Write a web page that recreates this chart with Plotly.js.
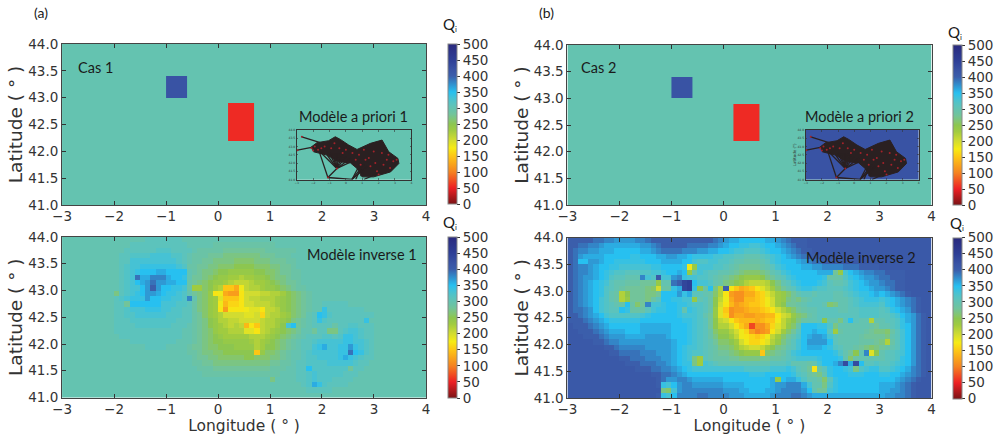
<!DOCTYPE html>
<html><head><meta charset="utf-8">
<script src="https://cdn.plot.ly/plotly-3.0.1.min.js"></script>
<style>html,body{margin:0;padding:0;background:#fff}#c{width:994px;height:435px}</style>
</head><body><div id="c"></div>
<script>
const colorStops=[[0,'#7a1315'],[0.1,'#ed2024'],[0.2,'#f58220'],[0.3,'#fdc615'],[0.35,'#f6eb14'],[0.4,'#d2dc30'],[0.46,'#a0cb40'],[0.5,'#8cc650'],[0.52,'#85c66c'],[0.54,'#7bc583'],[0.56,'#72c49a'],[0.58,'#6ac3a6'],[0.6,'#64c3b0'],[0.62,'#5cc3bc'],[0.64,'#52c3c6'],[0.66,'#46c2d4'],[0.7,'#27c0f0'],[0.8,'#3b5eab'],[0.84,'#3953a4'],[0.9,'#2e3f96'],[1,'#2a2a7e']];
const lons=[-2.95,-2.85,-2.75,-2.65,-2.55,-2.45,-2.35,-2.25,-2.15,-2.05,-1.95,-1.85,-1.75,-1.65,-1.55,-1.45,-1.35,-1.25,-1.15,-1.05,-0.95,-0.85,-0.75,-0.65,-0.55,-0.45,-0.35,-0.25,-0.15,-0.05,0.05,0.15,0.25,0.35,0.45,0.55,0.65,0.75,0.85,0.95,1.05,1.15,1.25,1.35,1.45,1.55,1.65,1.75,1.85,1.95,2.05,2.15,2.25,2.35,2.45,2.55,2.65,2.75,2.85,2.95,3.05,3.15,3.25,3.35,3.45,3.55,3.65,3.75,3.85,3.95];
const lats=[43.95,43.85,43.75,43.65,43.55,43.45,43.35,43.25,43.15,43.05,42.95,42.85,42.75,42.65,42.55,42.45,42.35,42.25,42.15,42.05,41.95,41.85,41.75,41.65,41.55,41.45,41.35,41.25,41.15,41.05];
const priorLonEdges=[-3,-1,-0.6,0.2,0.7,4];
const priorLatEdges=[41,42.2,42.9,43,43.4,44];
const prior1=[[300,300,300,300,300],[300,300,300,55,300],[300,300,300,300,300],[300,420,300,300,300],[300,300,300,300,300]];
const prior2=[[300,300,300,300,300],[300,300,300,55,300],[300,300,300,300,300],[300,420,300,300,300],[300,300,300,300,300]];
const insetBg1=[[300]];
const insetBg2=[[420]];
// Inverse model values, in tens of Q_i, rows from 44N down to 41N
const inverse1Tens=[
[30,30,30,30,30,30,30,30,30,30,30,30,30,30,30,30,31,31,31,31,31,31,31,30,30,30,30,30,30,30,30,30,30,30,30,30,30,30,30,30,30,30,30,30,30,30,30,30,30,30,30,30,30,30,30,30,30,30,30,30,30,30,30,30,30,30,30,30,30,30],
[30,30,30,30,30,30,30,30,30,30,30,30,30,31,31,31,31,31,31,31,31,31,31,31,30,30,30,30,30,29,29,29,29,29,29,29,29,29,29,29,29,30,30,30,30,30,30,30,30,30,30,30,30,30,30,30,30,30,30,30,30,30,30,30,30,30,30,30,30,30],
[30,30,30,30,30,30,30,30,30,30,30,30,31,31,31,31,31,31,32,32,32,31,31,31,31,30,29,29,29,29,29,28,28,28,28,28,28,28,28,29,29,29,29,29,29,30,30,30,30,30,30,30,30,30,30,30,30,30,30,30,30,30,30,30,30,30,30,30,30,30],
[30,30,30,30,30,30,30,30,30,30,30,31,31,32,32,32,32,33,33,33,33,32,32,31,30,29,29,29,28,28,28,27,27,27,27,27,27,27,28,28,28,29,29,29,30,30,30,30,30,30,30,30,30,30,30,30,30,30,30,30,30,30,30,30,30,30,30,30,30,30],
[30,30,30,30,30,30,30,30,30,30,30,31,31,33,33,33,33,33,33,33,33,33,32,31,30,29,29,28,28,27,27,27,27,26,26,26,26,27,27,27,28,28,28,29,29,30,30,30,30,30,30,30,30,30,30,30,30,30,30,30,30,30,30,30,30,30,30,30,30,30],
[30,30,30,30,30,30,30,30,30,30,30,31,32,33,33,34,34,34,34,34,34,34,33,32,29,29,28,28,27,27,26,26,26,25,25,25,25,26,26,26,27,27,28,28,29,30,30,30,30,30,30,30,30,30,30,30,30,30,30,30,30,30,30,30,30,30,30,30,30,30],
[30,30,30,30,30,30,30,30,30,30,30,31,32,33,34,35,35,35,36,36,35,35,35,35,30,29,28,27,27,26,25,25,24,24,24,24,24,25,25,26,26,27,28,28,29,29,30,30,30,30,30,30,30,30,30,30,30,30,30,30,30,30,30,30,30,30,30,30,30,30],
[30,30,30,30,30,30,30,30,30,30,30,31,32,33,39,36,36,38,38,38,36,35,35,34,30,28,28,27,26,25,24,24,23,23,22,23,23,24,24,25,26,27,27,28,29,29,30,30,30,30,30,30,30,30,30,30,30,30,30,30,30,30,30,30,30,30,30,30,30,30],
[30,30,30,30,30,30,30,30,30,30,30,31,32,33,35,36,37,39,37,37,36,36,35,35,29,28,27,26,25,24,24,23,22,21,21,21,22,23,23,24,25,26,27,28,28,29,30,30,30,30,30,30,30,30,30,30,30,30,30,30,30,30,30,30,30,30,30,30,30,30],
[30,30,30,30,30,30,30,30,30,30,30,31,32,33,33,35,37,40,37,35,35,34,34,33,29,23,23,26,25,23,22,15,15,13,18,21,22,22,23,24,24,25,26,27,28,29,29,30,30,30,30,30,30,30,30,30,30,30,30,30,30,30,30,30,30,30,30,30,30,30],
[30,30,30,30,30,30,30,30,30,30,27,31,32,33,34,35,37,37,36,35,34,34,33,32,30,28,27,26,24,17,18,13,12,12,17,20,20,20,21,21,22,22,23,25,26,27,28,29,30,30,30,30,30,30,30,30,30,30,30,30,30,30,30,30,30,30,30,30,30,30],
[30,30,30,30,30,30,30,30,30,30,31,32,33,34,34,34,37,35,35,34,34,33,33,32,38,30,27,26,24,23,19,15,15,15,17,20,21,21,22,22,22,23,24,25,26,27,28,29,30,30,30,30,30,30,30,30,30,30,30,30,30,30,30,30,30,30,30,30,30,30],
[30,30,30,30,30,30,30,30,30,30,31,31,28,35,35,35,35,35,35,33,33,33,32,32,31,29,27,26,24,23,18,14,16,16,17,20,20,21,21,21,22,23,24,25,26,27,28,29,30,30,31,31,31,31,31,30,30,30,30,30,30,30,30,30,30,30,30,30,30,30],
[30,30,30,30,30,30,30,30,30,30,31,31,32,33,33,33,34,34,34,33,33,32,32,31,31,29,27,26,24,23,17,12,17,17,17,18,19,19,17,21,21,22,24,25,26,27,28,29,30,30,34,31,31,31,31,31,31,31,30,30,30,30,30,30,30,30,30,30,30,30],
[30,30,30,30,30,30,30,30,30,30,31,31,32,32,33,33,33,33,33,33,32,32,32,31,31,29,28,26,24,23,22,20,20,20,20,19,19,20,16,21,22,22,23,24,26,27,28,30,31,35,34,32,31,31,31,31,31,31,31,31,30,30,30,30,30,30,30,30,30,30],
[30,30,30,30,30,30,30,30,30,30,31,31,31,32,32,32,32,32,32,32,32,32,31,31,31,29,28,27,25,24,22,22,21,21,20,20,20,20,21,22,22,23,24,25,27,28,29,30,31,34,32,31,31,31,31,31,31,31,34,30,30,30,30,30,30,30,30,30,30,30],
[30,30,30,30,30,30,30,30,30,30,31,31,31,31,32,32,32,32,32,32,32,31,31,31,30,29,28,27,25,24,23,22,21,22,21,14,17,15,21,22,22,23,25,33,35,28,29,30,31,31,31,31,29,31,31,32,32,31,31,31,30,30,30,30,30,30,30,30,30,30],
[30,30,30,30,30,30,30,30,30,30,31,31,31,31,31,31,31,31,31,31,31,31,31,30,30,29,28,27,26,24,23,23,22,22,22,19,19,17,21,22,23,24,25,26,27,28,30,30,28,31,31,27,27,31,32,33,33,32,31,31,30,30,30,30,30,30,30,30,30,30],
[30,30,30,30,30,30,30,30,30,30,30,31,31,31,31,31,31,31,31,31,31,31,31,30,30,29,28,27,26,25,24,23,23,23,23,23,22,22,22,23,24,25,26,27,28,29,30,31,31,31,32,32,31,32,34,34,33,32,31,31,30,30,30,30,30,30,30,30,30,30],
[30,30,30,30,30,30,30,30,30,30,30,30,30,31,31,31,31,31,31,31,31,31,30,30,30,29,28,27,26,25,25,24,24,24,24,24,23,22,23,24,25,26,27,28,29,30,31,31,32,33,33,33,33,33,34,34,33,33,32,31,30,30,30,30,30,30,30,30,30,30],
[30,30,30,30,30,30,30,30,30,30,30,30,30,30,30,30,31,31,31,31,30,30,30,30,29,28,28,27,26,26,25,25,25,24,24,24,24,22,23,25,25,26,27,28,29,30,31,31,33,34,36,33,33,34,34,37,34,33,32,31,30,30,30,30,30,30,30,30,30,30],
[30,30,30,30,30,30,30,30,30,30,30,30,30,30,30,30,30,30,30,30,30,30,30,30,29,29,28,27,27,26,26,25,25,25,25,25,25,15,24,26,26,27,28,29,30,30,31,32,33,33,33,33,33,34,34,39,35,34,32,31,30,30,30,30,30,30,30,30,30,30],
[30,30,30,30,30,30,30,30,30,30,30,30,30,30,30,30,30,30,30,30,30,30,30,30,30,29,28,28,27,27,26,26,26,26,26,25,25,26,26,26,27,27,28,29,30,30,31,32,32,33,33,33,33,34,36,34,33,32,31,31,30,30,30,30,30,30,30,30,30,30],
[30,30,30,30,30,30,30,30,30,30,30,30,30,30,30,30,30,30,30,30,30,30,30,30,30,29,29,28,28,27,27,27,27,27,27,27,27,27,27,27,28,28,29,29,30,31,31,32,32,32,32,33,33,33,33,33,32,31,31,30,30,30,30,30,30,30,30,30,30,30],
[30,30,30,30,30,30,30,30,30,30,30,30,30,30,30,30,30,30,30,30,30,30,30,30,30,30,29,29,29,28,28,28,28,28,28,28,28,28,28,28,29,29,29,30,30,31,31,35,32,32,32,32,32,32,32,28,31,31,30,30,30,30,30,30,30,30,30,30,30,30],
[30,30,30,30,30,30,30,30,30,30,30,30,30,30,30,30,30,30,30,30,30,30,30,30,30,30,30,29,29,29,29,29,29,29,29,29,29,29,29,29,29,29,30,30,30,31,31,32,33,32,32,32,32,32,31,31,31,30,30,30,30,30,30,30,30,30,30,30,30,30],
[30,30,30,30,30,30,30,30,30,30,30,30,30,30,30,30,30,30,30,30,30,30,30,30,30,30,30,30,30,30,30,30,30,30,30,30,30,30,30,30,27,30,30,30,30,31,31,32,33,32,32,32,31,31,31,31,30,30,30,30,30,30,30,30,30,30,30,30,30,30],
[30,30,30,30,30,30,30,30,30,30,30,30,30,30,30,30,30,30,30,30,30,30,30,30,30,30,30,30,30,30,30,30,30,30,30,30,30,30,30,30,30,30,30,30,30,30,31,32,36,34,32,31,31,31,31,30,30,30,30,30,30,30,30,30,30,30,30,30,30,30],
[30,30,30,30,30,30,30,30,30,30,30,30,30,30,30,30,30,30,30,30,30,30,30,30,30,30,30,30,30,30,30,30,30,30,30,30,30,30,30,30,30,30,30,30,30,30,30,31,31,31,31,31,30,30,30,30,30,30,30,30,30,30,30,30,30,30,30,30,30,30],
[30,30,30,30,30,30,30,30,30,30,30,30,30,30,30,30,30,30,30,30,30,30,30,30,30,30,30,30,30,30,30,30,30,30,30,30,30,30,30,30,30,30,30,30,30,30,30,30,30,30,30,30,30,30,30,30,30,30,30,30,30,30,30,30,30,30,30,30,30,30]];
const inverse2Tens=[
[40,40,40,40,40,39,39,38,38,37,37,37,37,38,38,39,40,40,40,40,40,40,40,40,40,40,40,40,39,38,37,36,36,35,35,35,35,35,36,36,37,38,39,40,40,40,41,41,41,41,41,41,41,41,41,41,41,41,41,41,41,41,41,41,41,41,41,41,41,41],
[40,40,39,39,38,38,37,36,36,36,36,36,36,36,37,37,38,39,40,40,40,40,40,39,39,39,39,38,38,37,36,35,35,34,34,33,33,34,35,35,36,37,38,39,40,40,41,41,41,41,41,41,41,41,41,41,41,41,41,41,41,41,41,41,41,41,41,41,41,41],
[40,39,38,38,37,37,36,36,36,35,35,35,35,35,36,36,37,38,39,39,39,39,38,38,38,37,37,36,36,35,35,34,33,33,32,32,32,33,34,35,35,36,37,38,39,40,40,41,41,41,41,41,41,41,41,41,41,41,41,41,41,41,41,41,41,41,41,41,41,41],
[40,39,37,36,36,36,36,35,35,35,35,35,34,34,35,35,35,36,36,37,37,36,36,35,34,34,34,34,33,33,32,32,31,31,30,30,30,31,32,33,34,35,36,37,38,39,40,40,40,41,41,41,41,41,41,41,41,41,41,41,41,41,41,41,41,41,41,41,41,41],
[40,39,35,35,37,37,36,35,35,34,34,34,34,34,34,35,35,35,36,36,36,36,35,35,33,32,32,33,33,32,32,31,30,30,29,29,29,30,31,33,34,35,35,35,36,37,38,39,39,40,40,40,40,41,41,41,41,41,41,41,41,41,41,41,41,41,41,41,41,41],
[40,39,38,38,37,36,35,35,34,34,33,33,33,33,33,33,34,34,35,35,35,35,34,18,24,33,33,33,32,32,31,30,29,28,28,28,28,29,30,31,33,34,35,35,35,36,36,37,37,38,38,38,38,39,39,39,40,40,40,40,41,41,41,41,41,41,41,41,41,41],
[40,39,38,38,37,36,35,34,33,32,32,31,31,31,32,32,33,33,34,35,35,36,35,24,30,33,32,31,31,30,30,29,28,27,26,26,26,27,28,30,31,33,34,35,35,35,35,35,36,36,36,28,24,33,35,36,37,38,38,39,39,40,40,40,40,41,41,41,41,41],
[40,39,38,37,37,36,35,34,32,31,31,30,30,30,38,33,32,41,33,33,37,38,34,33,33,32,32,31,30,29,28,27,26,25,24,24,24,25,27,28,30,31,33,34,35,35,35,35,35,34,29,29,29,32,34,35,36,37,37,38,39,39,40,40,40,41,41,41,41,41],
[40,39,38,37,36,35,34,33,31,30,30,29,29,29,28,28,28,24,30,30,39,40,44,45,35,33,33,32,30,29,27,26,25,24,22,21,21,21,22,25,27,30,31,33,34,35,35,35,34,33,31,30,30,31,33,34,35,36,37,37,38,39,39,40,40,41,41,41,41,41],
[40,39,38,37,36,35,34,32,31,30,29,28,28,28,28,27,26,20,29,29,34,36,44,45,34,25,29,35,27,22,40,17,15,13,14,15,17,19,21,23,26,28,30,31,33,34,34,33,32,32,31,31,31,32,33,34,35,35,36,37,37,38,39,40,40,41,41,41,41,41],
[40,39,38,37,36,35,34,32,30,29,22,25,28,28,28,27,27,28,35,35,35,37,34,36,31,31,30,29,26,22,17,12,11,11,13,13,15,16,19,21,23,24,26,28,30,31,31,30,31,31,31,30,30,31,32,33,34,34,35,36,35,36,37,38,39,40,41,41,41,41],
[40,39,38,37,36,35,33,32,30,29,22,24,28,28,28,27,29,31,35,35,34,34,33,33,24,30,31,29,25,21,18,13,11,11,14,14,15,16,18,20,23,24,27,28,27,29,30,31,31,31,31,30,30,30,31,32,33,34,34,34,33,34,35,36,37,38,39,40,41,41],
[40,39,38,37,36,35,33,32,31,30,29,35,29,26,28,38,33,33,34,35,35,34,34,33,32,32,31,29,25,20,17,14,12,13,14,15,15,16,18,20,23,25,28,28,29,30,31,31,31,30,26,27,30,30,31,32,33,33,33,33,32,34,35,36,37,38,39,40,41,41],
[40,39,39,38,37,35,33,32,31,31,35,34,29,29,29,31,33,34,34,35,35,34,30,34,33,32,31,29,24,19,15,11,12,12,13,14,14,15,16,17,20,22,24,26,28,29,30,30,31,31,31,31,30,30,31,31,32,32,32,32,31,32,34,35,36,37,39,40,41,41],
[40,40,39,38,37,36,35,33,32,32,32,32,32,32,33,34,35,35,35,35,35,34,33,33,33,32,30,28,24,19,16,11,13,13,12,12,13,13,14,14,17,20,21,24,26,27,29,30,31,31,31,31,31,31,31,31,32,32,32,32,31,31,32,33,35,36,37,39,40,41],
[40,40,40,39,38,37,36,35,34,34,34,34,34,34,35,35,35,35,35,35,35,35,34,34,33,32,31,28,25,21,20,17,15,14,14,14,13,14,15,15,18,21,23,25,27,29,30,30,31,25,30,30,27,31,35,31,30,30,22,30,30,31,31,32,34,36,37,39,40,41],
[41,40,40,40,39,38,37,36,35,35,35,35,35,35,36,36,36,36,36,36,35,35,35,34,33,32,31,28,25,22,22,20,17,15,13,7,11,11,13,16,19,21,24,26,29,35,35,35,34,34,32,27,30,30,30,30,30,30,29,28,30,30,31,32,34,35,37,39,40,41],
[41,41,40,40,40,39,38,37,36,36,36,35,35,35,36,36,36,36,36,36,35,35,35,34,33,32,31,29,26,24,24,22,20,18,16,12,10,11,12,17,20,23,26,28,31,35,35,36,35,35,31,23,29,30,30,30,30,29,28,27,27,26,29,31,33,35,37,39,40,41],
[41,41,41,40,40,40,39,38,37,37,37,36,36,36,36,37,37,37,37,36,35,35,35,34,33,32,31,29,27,25,25,23,21,18,17,16,15,16,18,21,23,26,28,30,32,35,36,37,37,36,33,31,30,30,30,30,29,28,28,28,28,27,30,31,33,35,37,39,40,41],
[41,41,41,41,41,40,40,39,38,38,37,37,37,37,37,37,37,37,37,37,36,35,35,34,33,32,31,30,28,26,26,25,23,20,18,16,16,17,19,22,24,27,29,31,33,35,37,37,37,37,35,31,30,30,30,30,29,29,29,28,27,22,29,31,33,35,37,39,40,41],
[41,41,41,41,41,41,41,40,40,39,38,38,38,38,38,37,37,37,37,37,36,35,34,33,33,32,31,30,29,27,27,26,24,22,21,20,20,21,23,25,27,28,30,31,33,35,36,36,36,35,34,32,31,30,30,29,28,27,26,27,28,29,30,31,33,35,37,39,40,41],
[41,41,41,41,41,41,41,41,40,40,39,39,39,39,38,38,38,37,37,37,36,35,34,33,32,32,31,30,29,28,28,27,26,25,24,24,24,15,26,27,28,29,31,33,34,35,35,35,35,35,35,34,32,30,28,25,30,38,19,25,30,31,31,32,33,35,37,39,40,41],
[41,41,41,41,41,41,41,41,41,41,40,40,39,39,39,38,38,38,37,37,36,35,34,33,27,23,31,30,29,29,29,28,28,27,27,27,27,28,28,29,29,30,31,32,33,33,33,33,34,35,35,35,34,30,26,29,30,30,30,30,30,31,31,32,34,35,37,39,40,41],
[41,41,41,41,41,41,41,41,41,41,41,40,40,40,39,39,39,38,38,37,36,35,34,34,27,23,33,32,31,30,30,30,30,30,30,30,30,30,30,31,31,31,32,30,30,30,29,30,33,35,35,36,38,43,36,43,35,31,31,32,31,31,32,33,34,35,37,39,40,41],
[41,41,41,41,41,41,41,41,41,41,41,41,41,40,40,40,39,39,38,38,37,36,35,34,33,33,33,33,33,33,33,33,33,33,32,32,32,32,32,33,33,33,34,33,31,30,28,17,29,31,34,35,35,34,33,27,32,33,34,34,32,32,33,34,35,36,38,39,40,41],
[41,41,41,41,41,41,41,41,41,41,41,41,41,41,41,41,40,40,39,39,38,37,36,35,35,35,35,35,35,35,35,35,35,35,35,34,34,34,35,35,35,35,35,34,32,31,29,28,27,30,34,35,35,35,34,34,34,35,35,35,34,34,35,35,36,37,38,39,40,41],
[41,41,41,41,41,41,41,41,41,41,41,41,41,41,41,41,41,40,39,37,37,38,38,37,36,36,36,36,36,36,35,35,35,35,35,35,35,35,35,36,24,35,36,36,34,32,30,30,29,26,31,34,35,35,35,35,35,35,35,35,35,35,35,36,37,38,39,40,41,41],
[41,41,41,41,41,41,41,41,41,41,41,41,41,41,41,41,41,40,34,33,35,37,38,38,37,37,37,37,37,37,36,36,36,36,35,35,35,35,35,36,37,37,38,38,38,36,33,30,30,27,32,34,35,35,35,35,35,35,35,35,36,36,36,37,38,39,40,41,41,41],
[41,41,41,41,41,41,41,41,41,41,41,41,41,41,41,41,41,41,27,26,33,37,38,38,38,38,38,38,38,38,37,37,37,36,36,35,35,35,36,36,37,38,38,38,38,37,35,30,28,28,33,34,35,35,35,35,35,35,35,35,36,36,37,37,38,39,40,41,41,41],
[41,41,41,41,41,41,41,41,41,41,41,41,41,41,41,41,41,40,34,33,35,38,38,38,38,39,39,38,38,38,38,37,37,37,36,36,36,36,36,37,38,38,38,39,39,38,37,36,36,36,36,36,36,36,36,36,36,36,36,36,36,37,37,38,38,39,40,41,41,41]];
const inverse1=inverse1Tens.map(r=>r.map(v=>v*10));
const inverse2=inverse2Tens.map(r=>r.map(v=>v*10));
// Inset ray network (lon, lat)
const coreLon=[-2.14,-1.77,-1.06,-0.65,-0.34,0.17,0.68,1.5,2.21,2.62,3.18,3.24,2.73,1.70,0.99,0.68,0.27,-0.44,-1.16,-1.98];
const coreLat=[42.95,43.23,43.35,43.59,43.43,43.09,42.82,43.19,43.39,42.68,42.28,41.97,41.46,41.16,41.16,41.67,42.01,42.07,42.48,42.68];
const rayLon=[-2.69,-1.57,null,-2.96,-2.1,null,-0.55,-1.16,null,-0.55,-1.0,null,-0.55,-0.85,null,-0.55,-0.7,null,-0.55,-0.55,null,-0.55,-0.4,null,-0.55,-0.2,null,-0.55,0.0,null,-0.55,0.3,null,-0.55,0.6,null,-1.10,-1.6,null,-1.10,-0.55,null,-1.10,0.37,null,0.37,0.9,null,0.37,1.1,null,0.37,1.3,null,0.6,1.0,null,0.9,1.2,null,1.1,2.0,null,-1.6,-0.55];
const rayLat=[43.59,43.23,null,42.78,42.95,null,41.67,42.5,null,41.67,42.6,null,41.67,42.6,null,41.67,42.6,null,41.67,42.6,null,41.67,42.6,null,41.67,42.5,null,41.67,42.4,null,41.67,42.3,null,41.67,42.2,null,41.12,42.6,null,41.12,41.67,null,41.12,41.0,null,41.0,42.0,null,41.0,41.9,null,41.0,41.8,null,41.0,41.9,null,41.2,41.7,null,41.0,41.4,null,42.7,41.67];
const dotLon=[-2.69,-2.96,-1.10,-0.55,-2.1,-1.9,-2.0,-1.7,-1.3,-0.9,-0.7,-0.4,0.0,0.4,0.8,1.1,1.4,1.8,2.2,2.5,2.9,3.1,2.7,2.3,1.9,1.5,1.2,0.9,-0.2,-1.5,0.6,2.0,2.6,1.7];
const dotLat=[43.59,42.78,41.12,41.67,42.9,43.0,42.75,42.8,43.0,42.9,43.2,42.9,42.8,42.6,42.5,42.8,42.3,42.0,42.6,42.2,42.1,42.2,41.7,41.9,41.5,41.8,42.2,41.9,42.6,42.9,42.2,41.3,42.5,42.7];
const xTickVals=[-3,-2,-1,0,1,2,3,4];
const xTickText=['\u22123','\u22122','\u22121','0','1','2','3','4'];
const yTickVals=[41,41.5,42,42.5,43,43.5,44];
const yTickText=['41.0','41.5','42.0','42.5','43.0','43.5','44.0'];
const cbTicks=[0,50,100,150,200,250,300,350,400,450,500];

const W=994,H=435;
const dx=(a,b)=>[a/W,b/W];
const dy=(t,b)=>[1-b/H,1-t/H];
const textCol='#333333';
const tickFont={family:'DejaVu Sans',size:13.5,color:textCol};
function xax(dom,anchor,title){
  const o={domain:dom,anchor:anchor,range:[-3,4],tickmode:'array',tickvals:xTickVals,ticktext:xTickText,ticks:'inside',ticklen:4,tickwidth:1,tickcolor:'#333',mirror:'allticks',showline:true,linecolor:'#444',linewidth:1,showgrid:false,zeroline:false,tickfont:tickFont,ticklabelstandoff:-1};
  if(title){o.title={text:'Longitude ( \u00b0 )',font:{family:'DejaVu Sans',size:15.5,color:textCol},standoff:3};}
  return o;
}
function yax(dom,anchor){
  return {domain:dom,anchor:anchor,range:[41,44],tickmode:'array',tickvals:yTickVals,ticktext:yTickText,ticks:'inside',ticklen:4,tickwidth:1,tickcolor:'#333',mirror:'allticks',showline:true,linecolor:'#444',linewidth:1,showgrid:false,zeroline:false,tickfont:tickFont,title:{text:'Latitude ( \u00b0 )',font:{family:'DejaVu Sans',size:18.5,color:textCol},standoff:0}};
}
const insetFont={family:'DejaVu Sans',size:3,color:textCol};
function insetX(dom,anchor){return {domain:dom,anchor:anchor,range:[-3,4],tickmode:'array',tickvals:xTickVals,ticktext:xTickText,ticks:'inside',ticklen:1.5,tickwidth:0.6,tickcolor:'#333',mirror:'allticks',showline:true,linecolor:'#333',linewidth:1,showgrid:false,zeroline:false,tickfont:insetFont};}
function insetY(dom,anchor,t){const o={domain:dom,anchor:anchor,range:[41,44],tickmode:'array',tickvals:yTickVals,ticktext:yTickText,ticks:'inside',ticklen:1.5,tickwidth:0.6,tickcolor:'#333',mirror:'allticks',showline:true,linecolor:'#333',linewidth:1,showgrid:false,zeroline:false,tickfont:insetFont};if(t){o.title={text:'Latitude (\u00b0)',font:{family:'DejaVu Sans',size:4,color:textCol},standoff:1};}return o;}
function heat(x,y,z,xa,ya,cbx,cbtop,cbh){
  return {type:'heatmap',x:x,y:y,z:z,xaxis:xa,yaxis:ya,zmin:0,zmax:500,colorscale:colorStops,zsmooth:false,hoverinfo:'skip',
    colorbar:{x:cbx/W,xanchor:'left',xpad:0,ypad:0,y:1-cbtop/H,yanchor:'top',thickness:9,thicknessmode:'pixels',lenmode:'pixels',len:cbh,tickmode:'array',tickvals:cbTicks,ticktext:cbTicks.map(String),ticks:'outside',ticklen:3,tickwidth:1,tickcolor:'#333',outlinecolor:'#888',outlinewidth:1,tickfont:tickFont}};
}
function bg(z,xa,ya){return {type:'heatmap',x:[-3,4],y:[41,44],z:z,zmin:0,zmax:500,colorscale:colorStops,showscale:false,xaxis:xa,yaxis:ya,hoverinfo:'skip'};}
function net(xa,ya){
  return [
   {type:'scatter',mode:'lines',x:coreLon,y:coreLat,fill:'toself',fillcolor:'#2a2021',line:{color:'#2a2021',width:1},xaxis:xa,yaxis:ya,showlegend:false,hoverinfo:'skip'},
   {type:'scatter',mode:'lines',x:rayLon,y:rayLat,line:{color:'#2a2021',width:1.3},connectgaps:false,xaxis:xa,yaxis:ya,showlegend:false,hoverinfo:'skip'},
   {type:'scatter',mode:'markers',x:dotLon,y:dotLat,marker:{color:'#a3222a',size:2},xaxis:xa,yaxis:ya,showlegend:false,hoverinfo:'skip'}
  ];
}
const data=[
 heat(priorLonEdges,priorLatEdges,prior1,'x','y',449.5,44,160),
 heat(priorLonEdges,priorLatEdges,prior2,'x2','y2',956.5,45,160),
 heat(lons,lats,inverse1,'x3','y3',449.5,237,160.5),
 heat(lons,lats,inverse2,'x4','y4',956.5,237.5,160.5),
 bg(insetBg1,'x5','y5'),
 bg(insetBg2,'x6','y6'),
 ...net('x5','y5'),
 ...net('x6','y6')
];
const ann=(t,x,y,size,extra)=>Object.assign({text:t,xref:'paper',yref:'paper',x:x/W,y:1-y/H,showarrow:false,xanchor:'center',yanchor:'middle',font:{family:'Lato',size:size,color:'#1a1a1a'}},extra||{});
const layout={
 width:W,height:H,margin:{l:0,r:0,t:0,b:0},paper_bgcolor:'#fff',plot_bgcolor:'#fff',showlegend:false,
 xaxis:xax(dx(62.3,427.7),'y',false),yaxis:yax(dy(44,205),'x'),
 xaxis2:xax(dx(569.7,935.3),'y2',false),yaxis2:yax(dy(45,205),'x2'),
 xaxis3:xax(dx(62.3,427.7),'y3',true),yaxis3:yax(dy(237,397.5),'x3'),
 xaxis4:xax(dx(569.7,935.3),'y4',true),yaxis4:yax(dy(237.5,398),'x4'),
 xaxis5:insetX(dx(298,413),'y5'),yaxis5:insetY(dy(130,179.5),'x5',false),
 xaxis6:insetX(dx(809,922.5),'y6'),yaxis6:insetY(dy(130,179.5),'x6',true),
 annotations:[
  ann('(a)',41,12,14),ann('(b)',549,12,14),
  ann('Cas 1',96,67,14.5),ann('Cas 2',601,67,14.5),
  ann('Modèle a priori 1',355,117,14.5),ann('Modèle a priori 2',863,117,14.5),
  ann('Modèle inverse 1',363,254,14.5),ann('Modèle inverse 2',864,257,14.5),
  ann('Q',451,24,15),ann('i',458,29,8),ann('Q',958,32,15),ann('i',965,37,8),
  ann('Q',451,222,15),ann('i',458,227,8),ann('Q',960,223,15),ann('i',967,228,8)
 ]
};
Plotly.newPlot('c',data,layout,{staticPlot:true,displayModeBar:false});
</script></body></html>
